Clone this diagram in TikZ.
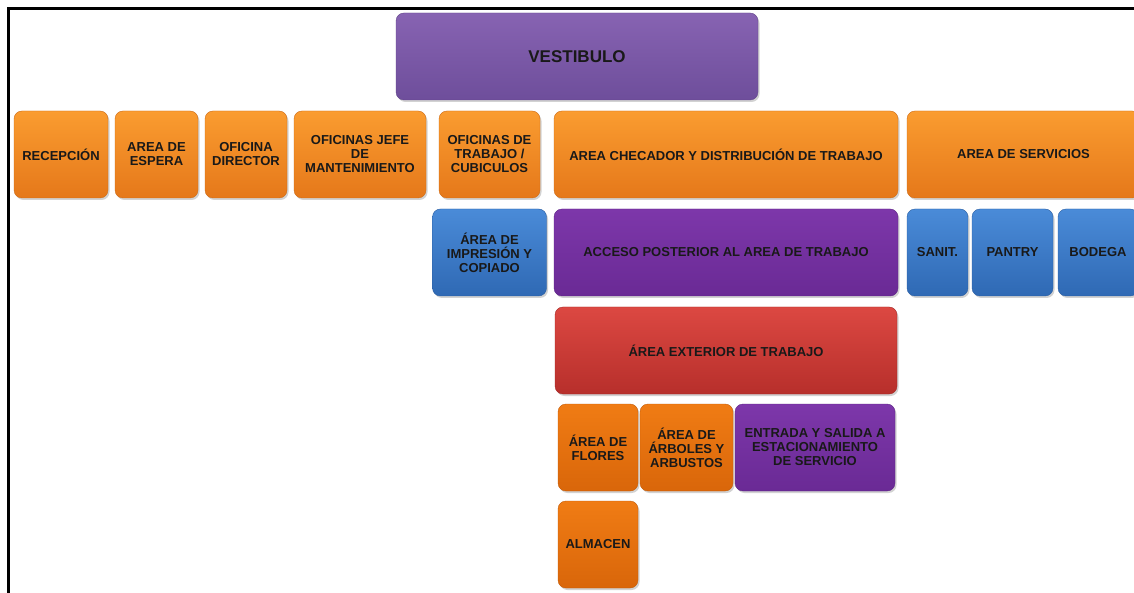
\documentclass[tikz,border=0pt]{standalone}
\usepackage{fontspec}
\setmainfont{Liberation Sans}
\usetikzlibrary{positioning, shadows}

\definecolor{orgtop}{HTML}{FA9C30}
\definecolor{orgbot}{HTML}{E5781A}
\definecolor{darkorgtop}{HTML}{F07C14}
\definecolor{darkorgbot}{HTML}{D9660A}
\definecolor{lilatop}{HTML}{8763B2}
\definecolor{lilabot}{HTML}{6E4E9B}
\definecolor{purtop}{HTML}{7D37AA}
\definecolor{purbot}{HTML}{6A2A95}
\definecolor{blutop}{HTML}{4A8BD8}
\definecolor{blubot}{HTML}{2F69B4}
\definecolor{redtop}{HTML}{DC4842}
\definecolor{redbot}{HTML}{B72F2B}

\begin{document}
\begin{tikzpicture}[
  x=1pt, y=-1pt,
  font=\bfseries\fontsize{13}{14}\selectfont,
  area/.style={rounded corners=8pt, minimum height=87pt, align=center, inner sep=2pt, outer sep=0pt,
    text=black!90, drop shadow={shadow xshift=1.5pt, shadow yshift=-2pt, opacity=0.35}},
  naranja/.style={area, top color=orgtop, bottom color=orgbot, draw=orgbot!90!black},
  naranjaosc/.style={area, top color=darkorgtop, bottom color=darkorgbot, draw=darkorgbot!90!black},
  lila/.style={area, top color=lilatop, bottom color=lilabot, draw=lilabot!90!black},
  morado/.style={area, top color=purtop, bottom color=purbot, draw=purbot!90!black},
  azul/.style={area, top color=blutop, bottom color=blubot, draw=blubot!90!black},
  rojo/.style={area, top color=redtop, bottom color=redbot, draw=redbot!90!black}
]
  \clip (0,0) rectangle (1134,593);
  \fill[white] (0,0) rectangle (1134,593);
  \draw[line width=3pt] (8,593) -- (8,9) -- (1134,9);

  % vestibulo
  \node[lila, minimum width=362pt, anchor=north west, font=\bfseries\fontsize{17}{20}\selectfont] (vest) at (396,13) {VESTIBULO};

  % fila 1
  \node[naranja, minimum width=94pt, anchor=north west] (recep) at (14,111) {RECEPCIÓN};
  \node[naranja, minimum width=83pt, right=7pt of recep] (espera) {AREA DE\\ESPERA};
  \node[naranja, minimum width=82pt, right=7pt of espera] (director) {OFICINA\\DIRECTOR};
  \node[naranja, minimum width=132pt, right=7pt of director] (jefe) {OFICINAS JEFE\\DE\\MANTENIMIENTO};
  \node[naranja, minimum width=101pt, right=13pt of jefe] (cubic) {OFICINAS DE\\TRABAJO /\\CUBICULOS};
  \node[naranja, minimum width=344pt, right=14pt of cubic] (checador) {AREA CHECADOR Y DISTRIBUCIÓN DE TRABAJO};
  \node[naranja, minimum width=233pt, right=9pt of checador] (servicios) {AREA DE SERVICIOS};

  % fila 2
  \node[azul, minimum width=114pt, below=11pt of cubic] (impresion) {ÁREA DE\\IMPRESIÓN Y\\COPIADO};
  \node[morado, minimum width=344pt, below=11pt of checador] (acceso) {ACCESO POSTERIOR AL AREA DE TRABAJO};
  \node[azul, minimum width=61pt, below right=11pt and 0pt of servicios.south west] (sanit) {SANIT.};
  \node[azul, minimum width=81pt, right=4pt of sanit] (pantry) {PANTRY};
  \node[azul, minimum width=80pt, right=5pt of pantry] (bodega) {BODEGA};

  % fila 3
  \node[rojo, minimum width=342pt, below=11pt of acceso] (exterior) {ÁREA EXTERIOR DE TRABAJO};

  % fila 4 y 5
  \node[naranjaosc, minimum width=80pt, below right=10pt and 3pt of exterior.south west] (flores) {ÁREA DE\\FLORES};
  \node[naranjaosc, minimum width=93pt, right=2pt of flores] (arboles) {ÁREA DE\\ÁRBOLES Y\\ARBUSTOS};
  \node[morado, minimum width=160pt, right=2pt of arboles] (entrada) {ENTRADA Y SALIDA A\\ESTACIONAMIENTO\\DE SERVICIO};
  \node[naranjaosc, minimum width=80pt, below=10pt of flores] (almacen) {ALMACEN};
\end{tikzpicture}
\end{document}
